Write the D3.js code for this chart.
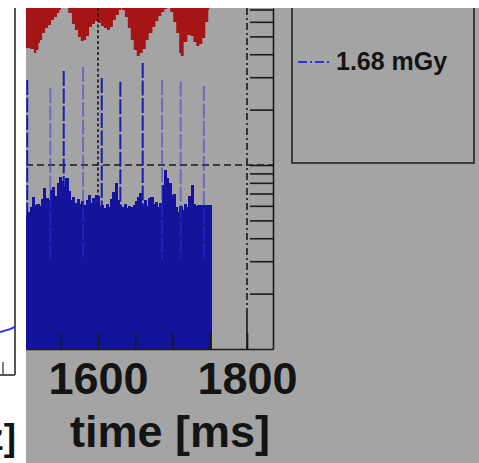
<!DOCTYPE html>
<html><head><meta charset="utf-8">
<script src="https://cdn.jsdelivr.net/npm/d3@7"></script>
<style>html,body{margin:0;padding:0;background:#fff;overflow:hidden}text{font-family:"Liberation Sans",Arial,sans-serif}</style>
</head><body><svg id="c" width="479" height="463"></svg>
<script>
// ---- data ----
const binStart = 1503, binWidth = 3;
const binCounts = [5.35,5.55,5.91,6.70,6.06,6.14,5.99,6.54,7.50,6.62,6.45,7.31,7.59,6.79,7.98,8.61,8.19,7.69,8.50,7.22,
  6.45,6.70,6.22,6.54,6.14,6.37,6.06,6.45,6.87,6.22,6.62,6.87,6.79,5.99,6.06,5.84,6.14,5.91,6.54,7.13,
  7.98,6.45,6.06,5.91,6.14,5.84,5.99,5.91,6.06,6.37,6.70,7.04,6.06,6.45,5.99,6.62,6.70,6.14,6.30,5.91,
  6.22,7.79,9.39,8.50,7.98,6.87,6.96,5.91,5.55,5.99,5.69,6.14,5.91,6.79,7.79,6.14,5.99,6.06,6.06,6.06,
  6.06,6.06,6.06];
const pulseTimes = [1505,1536,1554,1580,1605,1630,1660,1686,1711,1742];
const pulsePeaks = [29,26.2,32.4,34.1,29.7,28.3,35.8,29,28.3,26.9];
const pulseFaint = [false,true,false,true,false,false,false,true,true,true];
const redTimes = [1503,1509,1514,1517,1520,1522,1525,1529,1533,1537,1541,1545,1548,1550,1557,1560,1565,1569,1573,1577,
  1581,1584,1588,1592,1596,1600,1604,1608,1612,1616,1620,1624,1628,1631,1632,1636,1640,1644,1648,1652,
  1656,1660,1664,1668,1673,1677,1681,1685,1689,1693,1697,1701,1705,1709,1711,1715,1720,1724,1728,1732,
  1736,1740,1744,1748,1749];
const redDepth = [40,41,45,42,35,32,25,20,17,12,9,5,2,0,0,5,16,22,29,33,
  32,28,19,16,13,15,18,20,22,19,12,7,2,0,2,9,20,32,42,48,
  45,41,32,25,19,13,8,4,1,0,4,14,25,45,48,34,27,28,34,38,
  36,30,14,2,0];
const xTicks = [1550,1600,1650,1700,1750,1800];
const xTickLabels = {1600:"1600",1800:"1800"};
const yTicks = [2,3,4,5,6,7,8,9,10,20,30,40,50,60,70];
const threshold = 10;
const dottedMarker = 1600, dashDotMarker = 1800;
const legendLabels = ["1.68 mGy"];
const xAxisTitle = "time [ms]";
const leftAxisTitle = "[Hz]";
const leftCurveX = [0, 0.33, 0.67, 1];
const leftCurveY = [0.117, 0.121, 0.125, 0.131];

// ---- layout ----
const svg = d3.select("#c");
const P = {l:26, r:273, t:8, b:349};
const GRAY = "#a4a4a4";

const x0 = d3.scaleLinear().domain([1600,1800]).range([98,247]);
const x = d3.scaleLinear().domain([x0.invert(P.l), x0.invert(P.r)]).range([P.l, P.r]);
const y = d3.scaleLog().domain([1, Math.pow(10, (P.b-P.t)/184)]).range([P.b, P.t]);
const redY = d3.scaleLinear().domain([0,50]).range([P.t, P.t+50]);

svg.append("rect").attr("width",479).attr("height",463).attr("fill","#fff");
svg.append("rect").attr("x",P.l).attr("y",P.t).attr("width",479-P.l).attr("height",463-P.t).attr("fill",GRAY);

const defs = svg.append("defs");
defs.append("clipPath").attr("id","plot").append("rect").attr("x",P.l).attr("y",P.t).attr("width",P.r-P.l).attr("height",P.b-P.t+1);
defs.append("clipPath").attr("id","grayc").append("rect").attr("x",P.l).attr("y",P.t).attr("width",479-P.l).attr("height",463-P.t);

const g = svg.append("g").attr("clip-path","url(#plot)");

// red signal
const redData = redTimes.map((t,i)=>({t, d:redDepth[i]}));
g.append("path").datum(redData)
  .attr("d", d3.area().x(d=>x(d.t)).y0(redY(0)).y1(d=>redY(d.d)).curve(d3.curveStepAfter))
  .attr("fill","#a51515");

// marker lines
g.append("line").attr("x1",x(dottedMarker)).attr("x2",x(dottedMarker)).attr("y1",P.t).attr("y2",P.b)
  .attr("stroke","#1a1a1a").attr("stroke-width",1.6).attr("stroke-dasharray","3,2.5");
g.append("line").attr("x1",x(dashDotMarker)).attr("x2",x(dashDotMarker)).attr("y1",P.t).attr("y2",P.b-36)
  .attr("stroke","#1a1a1a").attr("stroke-width",1.6).attr("stroke-dasharray","7,3,2,3");
g.append("line").attr("x1",P.l).attr("x2",P.r).attr("y1",y(threshold)).attr("y2",y(threshold))
  .attr("stroke","#1a1a1a").attr("stroke-width",1.6).attr("stroke-dasharray","7,4");

// axes
const yAxis = svg.append("g").attr("transform",`translate(${P.r},0)`)
  .call(d3.axisLeft(y).tickValues(yTicks).tickSize(23).tickSizeOuter(0).tickFormat(""));
const xAxis = svg.append("g").attr("transform",`translate(0,${P.b})`)
  .call(d3.axisBottom(x).tickValues(xTicks).tickSize(-16).tickSizeOuter(0).tickPadding(13)
        .tickFormat(d=>xTickLabels[d]||""));
[yAxis,xAxis].forEach(a=>{a.selectAll("path,line").attr("stroke","#1a1a1a").attr("stroke-width",1.6);});
xAxis.selectAll("text").attr("font-size",45).attr("font-weight","bold").attr("fill","#141414")
  .attr("font-family","Liberation Sans, Arial, sans-serif");
svg.append("line").attr("x1",x(dashDotMarker)).attr("x2",x(dashDotMarker)).attr("y1",P.b-36).attr("y2",P.b)
  .attr("stroke","#1a1a1a").attr("stroke-width",1.6);

// pulses (dark ones below bars)
const pulses = pulseTimes.map((t,i)=>({t, v:pulsePeaks[i], faint:pulseFaint[i]}));
g.selectAll("line.pd").data(pulses.filter(p=>!p.faint)).join("line").attr("class","pd")
  .attr("x1",d=>x(d.t)).attr("x2",d=>x(d.t)).attr("y1",d=>y(d.v)).attr("y2",P.b)
  .attr("stroke","#1c1cb2").attr("stroke-width",2).attr("stroke-dasharray","15,2.5");

// histogram bars
const bins = binCounts.map((v,i)=>({t:binStart+i*binWidth, v}));
g.selectAll("rect.bar").data(bins).join("rect").attr("class","bar")
  .attr("x",d=>Math.floor(x(d.t))).attr("width",d=>Math.ceil(x(d.t+binWidth))-Math.floor(x(d.t)))
  .attr("y",d=>Math.round(y(d.v))).attr("height",d=>P.b+1-Math.round(y(d.v)))
  .attr("shape-rendering","crispEdges")
  .attr("fill","#13139b");

// faint pulses on top
g.selectAll("line.pf").data(pulses.filter(p=>p.faint)).join("line").attr("class","pf")
  .attr("x1",d=>x(d.t)).attr("x2",d=>x(d.t)).attr("y1",d=>y(d.v)).attr("y2",P.b-90)
  .attr("stroke","rgba(50,50,220,0.5)").attr("stroke-width",2).attr("stroke-dasharray","15,2.5");

// x title
svg.append("text").attr("x",170).attr("y",447).attr("text-anchor","middle")
  .attr("font-size",45).attr("font-weight","bold").attr("fill","#141414").text(xAxisTitle);

// legend
const lg = svg.append("g").attr("clip-path","url(#grayc)");
lg.append("rect").attr("x",292).attr("y",0).attr("width",182).attr("height",163)
  .attr("fill","none").attr("stroke","#222").attr("stroke-width",1.6);
legendLabels.forEach((lab,i)=>{
  lg.append("line").attr("x1",298).attr("x2",331).attr("y1",62+i*30).attr("y2",62+i*30)
    .attr("stroke","#3333cc").attr("stroke-width",2).attr("stroke-dasharray","9,3,2,3");
  lg.append("text").attr("x",336).attr("y",70+i*30).attr("font-size",25).attr("font-weight","bold")
    .attr("fill","#141414").text(lab);
});

// left neighbour panel (partially visible)
const lx = d3.scaleLinear().domain([0,1]).range([0,15]);
const ly = d3.scaleLinear().domain([0,1]).range([375,8]);
svg.append("line").attr("x1",15).attr("x2",15).attr("y1",8).attr("y2",375).attr("stroke","#555").attr("stroke-width",2);
svg.append("line").attr("x1",0).attr("x2",15).attr("y1",375).attr("y2",375).attr("stroke","#555").attr("stroke-width",2);
svg.append("line").attr("x1",3).attr("x2",3).attr("y1",362).attr("y2",375).attr("stroke","#555").attr("stroke-width",1.5);
svg.append("path").datum(leftCurveX.map((v,i)=>[v,leftCurveY[i]]))
  .attr("d", d3.line().x(d=>lx(d[0])).y(d=>ly(d[1])).curve(d3.curveMonotoneX))
  .attr("fill","none").attr("stroke","#2b2bff").attr("stroke-width",2);
svg.append("text").attr("x",16).attr("y",450).attr("text-anchor","end")
  .attr("font-size",37).attr("font-weight","bold").attr("fill","#141414").text(leftAxisTitle);
</script></body></html>
